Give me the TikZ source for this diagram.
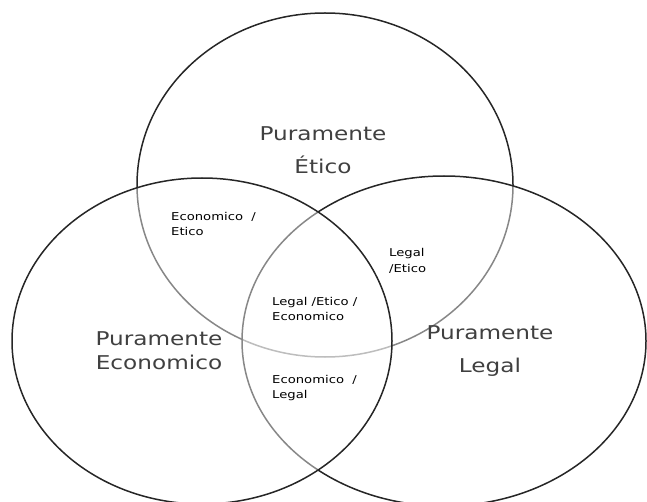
\documentclass[tikz,border=0pt]{standalone}
\usepackage{fontspec}
\setmainfont{DejaVu Sans}
\usepackage{graphicx}
\usetikzlibrary{shapes.geometric}
\newcommand{\wide}[1]{\scalebox{1.22}[1]{#1}}

\begin{document}
\begin{tikzpicture}[x=1pt,y=-1pt,
            ring/.style={ellipse,draw=black!85,line width=1.5pt,inner sep=0pt,outer sep=0pt},
            veil/.style={fill=white,fill opacity=0.45},
            bigtxt/.style={font=\fontsize{19}{33}\selectfont,text=black!75,align=center,inner sep=0pt},
            smalltxt/.style={font=\fontsize{10.8}{15.5}\selectfont,text=black,align=left,anchor=west,inner sep=0pt}]
\useasboundingbox (0,0) rectangle (647,502);
% the three circles
\node (etico) at (325,185) [ring,minimum width=376pt,minimum height=344pt] {};
\node (legal) at (444,341) [ring,veil,minimum width=404pt,minimum height=330pt] {};
\node (econ) at (202,341) [ring,veil,minimum width=380pt,minimum height=326pt] {};
% labels
\node (pEtico) at (323,150) [bigtxt] {\wide{Puramente}\\\wide{Ético}};
\node (pEcon) at (159,351) [bigtxt,font=\fontsize{19}{24}\selectfont] {\wide{Puramente}\\\wide{Economico}};
\node (pLegal) at (490,351) [bigtxt] {\wide{Puramente}\\\wide{Legal}};
\node (econEtico) at (171,224) [smalltxt] {\wide{Economico~~/}\\\wide{Etico}};
\node (legalEtico) at (389,261) [smalltxt] {\wide{Legal}\\\wide{/Etico}};
\node (tres) at (272,309) [smalltxt] {\wide{Legal /Etico /}\\\wide{Economico}};
\node (econLegal) at (272,388) [smalltxt] {\wide{Economico~~/}\\\wide{Legal}};
\end{tikzpicture}
\end{document}
